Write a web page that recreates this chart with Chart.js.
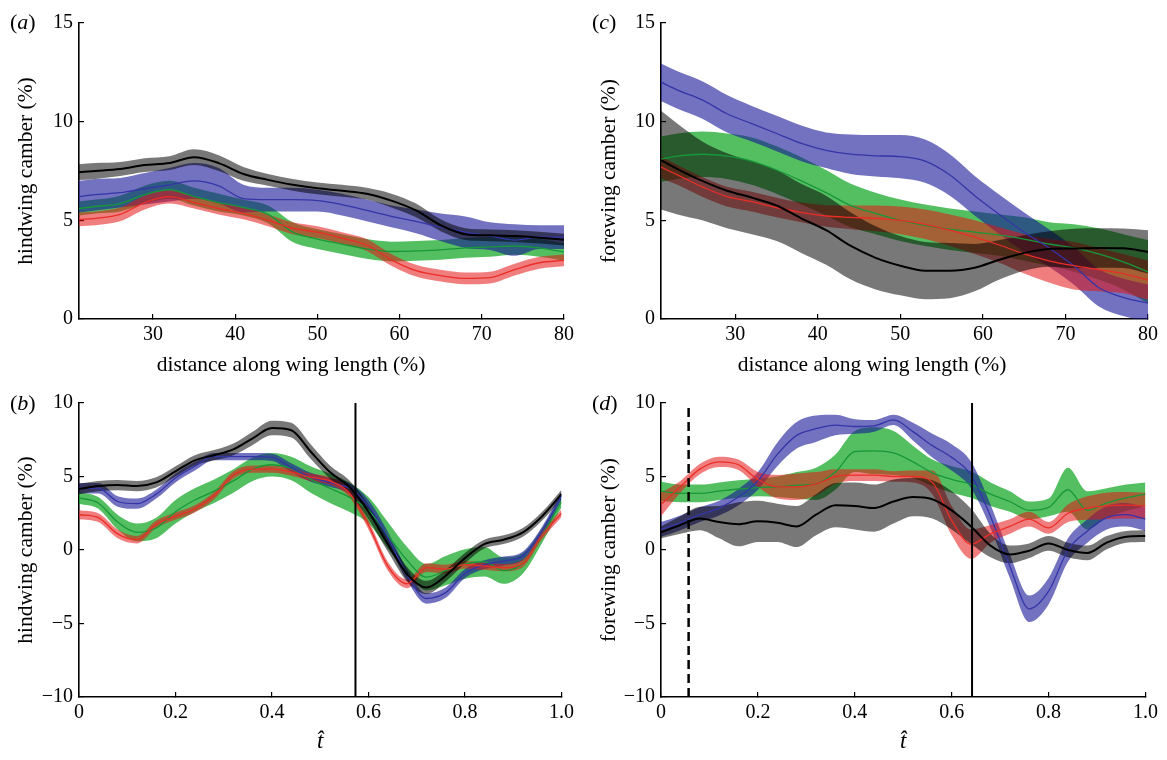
<!DOCTYPE html>
<html>
<head>
<meta charset="utf-8">
<script src="https://cdn.jsdelivr.net/npm/chart.js@4.4.1/dist/chart.umd.min.js"></script>
<style>
  body { margin: 0; background: #fff; }
  #fig { position: relative; width: 1167px; height: 760px; font-family: 'Liberation Serif', serif; color: #000; }
  #fig canvas { position: absolute; }
  .tag { position: absolute; font-size: 22px; line-height: 24px; }
  .xt { position: absolute; font-size: 21.5px; line-height: 24px; white-space: nowrap; transform: translateX(-50%); }
</style>
</head>
<body>
<div id="fig">
  <canvas id="panelA" width="583" height="380" style="left:0;top:0"></canvas>
  <canvas id="panelC" width="584" height="380" style="left:583px;top:0"></canvas>
  <canvas id="panelB" width="583" height="380" style="left:0;top:380px"></canvas>
  <canvas id="panelD" width="584" height="380" style="left:583px;top:380px"></canvas>
  <span class="tag" style="left:10px;top:10px">(<i>a</i>)</span>
  <span class="tag" style="left:592px;top:10px">(<i>c</i>)</span>
  <span class="tag" style="left:10px;top:391px">(<i>b</i>)</span>
  <span class="tag" style="left:592px;top:391px">(<i>d</i>)</span>
  <span class="xt" style="left:291px;top:352px">distance along wing length (%)</span>
  <span class="xt" style="left:872px;top:352px">distance along wing length (%)</span>
</div>
<script>
// x positions along the wing (%), panels a and c
const spanX = [21, 23, 26, 29, 32, 35, 38, 41, 44, 47, 50, 53, 56, 59, 62, 65, 68, 71, 74, 77, 80]
// normalised time, panels b and d
const timeT = [0, 0.04, 0.08, 0.12, 0.16, 0.2, 0.24, 0.28, 0.32, 0.36, 0.4, 0.44, 0.48, 0.52,
  0.56, 0.6, 0.64, 0.68, 0.72, 0.76, 0.8, 0.84, 0.88, 0.92, 0.96, 1.0]

// (a) hindwing camber vs span
const aBlack = [7.44, 7.5, 7.6, 7.8, 7.9, 8.2, 7.9, 7.35, 7.05, 6.8, 6.62, 6.5, 6.35, 6.0, 5.5, 4.75, 4.3, 4.24, 4.2, 4.12, 4.02]
const aBlackSd = [0.4, 0.4, 0.35, 0.35, 0.35, 0.4, 0.4, 0.35, 0.3, 0.3, 0.3, 0.3, 0.3, 0.35, 0.35, 0.3, 0.3, 0.3, 0.3, 0.3, 0.3]
const aBlue = [6.2, 6.3, 6.4, 6.6, 6.8, 7.0, 6.75, 6.1, 6.05, 6.05, 6.0, 5.8, 5.5, 5.2, 4.95, 4.65, 4.4, 4.2, 4.0, 4.15, 4.15]
const aBlueSd = [0.8, 0.8, 0.75, 0.8, 0.85, 0.9, 0.9, 0.7, 0.6, 0.6, 0.55, 0.55, 0.55, 0.55, 0.6, 0.7, 0.8, 0.7, 0.8, 0.6, 0.6]
const aGreen = [5.6, 5.7, 5.85, 6.3, 6.55, 6.2, 5.9, 5.65, 5.3, 4.4, 4.05, 3.8, 3.55, 3.42, 3.45, 3.5, 3.6, 3.65, 3.7, 3.6, 3.4]
const aGreenSd = [0.35, 0.35, 0.4, 0.45, 0.45, 0.45, 0.45, 0.4, 0.45, 0.5, 0.5, 0.5, 0.5, 0.5, 0.5, 0.5, 0.5, 0.5, 0.45, 0.45, 0.45]
const aRed = [5.05, 5.1, 5.3, 5.9, 6.2, 5.9, 5.6, 5.35, 5.0, 4.6, 4.4, 4.1, 3.75, 3.0, 2.45, 2.2, 2.06, 2.1, 2.5, 2.85, 2.97]
const aRedSd = [0.35, 0.35, 0.35, 0.35, 0.35, 0.3, 0.3, 0.3, 0.3, 0.3, 0.3, 0.3, 0.3, 0.3, 0.3, 0.3, 0.3, 0.3, 0.3, 0.3, 0.3]

// (c) forewing camber vs span
const cBlack = [8.05, 7.6, 7.0, 6.5, 6.15, 5.75, 5.1, 4.5, 3.7, 3.1, 2.7, 2.45, 2.45, 2.6, 3.0, 3.35, 3.55, 3.57, 3.6, 3.58, 3.4]
const cBlackSd = [2.5, 2.3, 2.0, 1.9, 1.85, 1.8, 1.75, 1.75, 1.7, 1.6, 1.5, 1.45, 1.4, 1.2, 1.0, 0.9, 0.9, 1.0, 1.0, 1.0, 1.1]
const cBlue = [12.0, 11.6, 11.1, 10.4, 9.9, 9.4, 8.9, 8.55, 8.35, 8.27, 8.23, 8.0, 7.3, 6.25, 5.3, 4.4, 3.6, 2.7, 1.6, 1.1, 0.8]
const cBlueSd = [0.95, 0.95, 0.95, 0.95, 0.9, 0.9, 0.9, 0.9, 1.0, 1.05, 1.1, 1.1, 1.05, 1.0, 1.0, 1.0, 0.95, 0.95, 0.95, 0.95, 0.95]
const cGreen = [8.1, 8.25, 8.35, 8.25, 8.0, 7.55, 7.0, 6.4, 5.75, 5.35, 5.0, 4.75, 4.55, 4.4, 4.25, 4.05, 3.8, 3.6, 3.3, 2.9, 2.4]
const cGreenSd = [1.15, 1.15, 1.15, 1.15, 1.2, 1.2, 1.2, 1.15, 1.1, 1.05, 1.05, 1.05, 1.05, 1.05, 1.05, 1.1, 1.1, 1.2, 1.3, 1.4, 1.6]
const cRed = [7.7, 7.3, 6.7, 6.2, 5.95, 5.65, 5.4, 5.22, 5.15, 5.1, 5.0, 4.8, 4.5, 4.15, 3.75, 3.3, 2.95, 2.7, 2.5, 2.3, 1.97]
const cRedSd = [0.55, 0.5, 0.5, 0.5, 0.5, 0.5, 0.5, 0.55, 0.6, 0.65, 0.7, 0.75, 0.8, 0.85, 0.9, 1.0, 1.1, 1.2, 1.1, 1.0, 1.0]

// (b) hindwing camber vs time
const bBlack = [4.15, 4.35, 4.42, 4.35, 4.6, 5.35, 6.1, 6.45, 6.85, 7.6, 8.3, 8.15, 6.7, 5.3, 4.3, 2.6, 0.4, -1.65, -2.55, -1.75, -0.55, 0.4, 0.7, 1.2, 2.3, 3.8]
const bBlackSd = [0.35, 0.35, 0.35, 0.35, 0.35, 0.35, 0.35, 0.35, 0.4, 0.45, 0.5, 0.5, 0.5, 0.45, 0.45, 0.5, 0.5, 0.5, 0.45, 0.4, 0.35, 0.3, 0.3, 0.3, 0.3, 0.3]
const bBlue = [4.2, 4.2, 3.3, 3.15, 3.8, 4.9, 5.7, 6.35, 6.35, 6.35, 6.3, 5.6, 4.95, 4.6, 4.2, 3.0, 0.85, -1.7, -3.3, -2.9, -1.6, -1.0, -0.75, -0.4, 1.3, 3.7]
const bBlueSd = [0.35, 0.35, 0.35, 0.35, 0.3, 0.3, 0.3, 0.25, 0.25, 0.25, 0.25, 0.3, 0.3, 0.3, 0.35, 0.4, 0.4, 0.4, 0.35, 0.35, 0.3, 0.3, 0.3, 0.3, 0.3, 0.3]
const bGreen = [3.55, 3.2, 1.9, 1.2, 1.5, 2.6, 3.4, 4.0, 4.7, 5.5, 5.8, 5.55, 4.8, 4.2, 3.6, 2.7, 1.0, -0.7, -1.85, -1.4, -0.95, -0.8, -1.4, -0.9, 1.0, 3.3]
const bGreenSd = [0.4, 0.4, 0.5, 0.6, 0.7, 0.8, 0.8, 0.8, 0.8, 0.8, 0.8, 0.8, 0.9, 1.0, 1.0, 0.9, 0.9, 0.9, 0.9, 1.0, 1.0, 1.0, 0.9, 0.7, 0.5, 0.4]
const bRed = [2.4, 2.2, 1.1, 0.7, 1.75, 2.3, 2.8, 3.7, 5.1, 5.5, 5.5, 5.3, 4.95, 4.7, 3.9, 1.7, -1.1, -2.3, -1.2, -1.3, -1.0, -1.1, -1.2, -0.9, 1.0, 2.5]
const bRedSd = [0.3, 0.3, 0.3, 0.25, 0.25, 0.25, 0.25, 0.25, 0.25, 0.25, 0.25, 0.25, 0.25, 0.25, 0.3, 0.3, 0.3, 0.3, 0.3, 0.3, 0.25, 0.25, 0.25, 0.25, 0.25, 0.25]
const bPhase = [0.573]

// (d) forewing camber vs time
const dBlack = [1.2, 1.7, 2.15, 1.9, 1.75, 1.95, 1.85, 1.6, 2.4, 3.05, 3.0, 2.85, 3.3, 3.6, 3.45, 2.7, 1.6, 0.3, -0.3, -0.05, 0.45, 0.0, -0.2, 0.5, 0.9, 0.95]
const dBlackSd = [0.4, 0.6, 0.8, 1.1, 1.5, 1.4, 1.3, 1.4, 1.4, 1.5, 1.6, 1.6, 1.5, 1.3, 1.3, 1.3, 1.2, 0.8, 0.6, 0.5, 0.5, 0.5, 0.5, 0.45, 0.4, 0.4]
const dBlue = [1.4, 1.85, 2.4, 2.85, 3.6, 4.7, 6.5, 7.8, 8.25, 8.5, 8.4, 8.45, 8.85, 8.05, 7.1, 6.3, 5.1, 2.3, -1.1, -4.0, -2.8, 0.0, 1.3, 2.2, 2.4, 2.1]
const dBlueSd = [0.5, 0.5, 0.5, 0.5, 0.55, 0.6, 0.8, 0.9, 0.9, 0.7, 0.5, 0.4, 0.35, 0.6, 0.8, 0.9, 0.9, 0.8, 0.8, 0.9, 0.9, 0.8, 0.8, 0.8, 0.8, 0.8]
const dGreen = [4.0, 3.85, 3.85, 4.0, 4.15, 4.25, 4.3, 4.4, 4.5, 5.3, 6.7, 6.75, 6.6, 6.0, 5.25, 4.8, 4.45, 3.8, 3.3, 2.7, 2.9, 4.1, 2.7, 3.2, 3.55, 3.8]
const dGreenSd = [0.65, 0.6, 0.6, 0.6, 0.6, 0.6, 0.7, 0.9, 1.1, 1.2, 1.4, 1.6, 1.5, 1.1, 0.9, 0.9, 0.9, 0.8, 0.7, 0.6, 0.6, 1.5, 1.3, 1.0, 0.9, 0.8]
const dRed = [3.1, 4.3, 5.5, 6.0, 5.8, 4.8, 4.3, 4.3, 4.5, 5.0, 5.1, 5.1, 5.0, 5.0, 4.6, 2.0, 0.4, 1.1, 1.6, 2.1, 1.5, 2.5, 2.85, 3.0, 3.05, 3.0]
const dRedSd = [0.8, 0.4, 0.35, 0.35, 0.35, 0.5, 0.8, 0.9, 0.8, 0.5, 0.4, 0.4, 0.35, 0.4, 0.8, 1.0, 1.0, 0.6, 0.5, 0.5, 0.4, 0.6, 0.8, 0.9, 0.9, 0.9]
const dPhase = [0.057, 0.642]

// axis ticks
const spanTicks = [30, 40, 50, 60, 70, 80]
const spanTickLabels = ['30', '40', '50', '60', '70', '80']
const spanCamberTicks = [0, 5, 10, 15]
const spanCamberLabels = ['0', '5', '10', '15']
const timeTicks = [0, 0.2, 0.4, 0.6, 0.8, 1.0]
const timeTickLabels = ['0', '0.2', '0.4', '0.6', '0.8', '1.0']
const timeCamberTicks = [-10, -5, 0, 5, 10]
const timeCamberLabels = ['\u221210', '\u22125', '0', '5', '10']

const bandColor = {
  black: 'rgba(0,0,0,0.53)',
  blue: 'rgba(20,20,150,0.6)',
  green: 'rgba(0,160,20,0.67)',
  red: 'rgba(230,20,20,0.55)'
}
const lineColor = { black: '#000000', blue: '#3535a8', green: '#17973a', red: '#ea2d27' }

const serif = 'Liberation Serif'

const pts = (xs, ys) => xs.map((x, i) => ({ x, y: ys[i] }))

function buildDatasets(xs, groups, phase) {
  const lines = []
  const bands = []
  // later index is drawn first, so bands go at the end
  for (const g of groups) {
    lines.push({
      data: pts(xs, g.mean),
      borderColor: lineColor[g.key],
      borderWidth: g.key === 'black' ? 2 : 1.3,
      fill: false
    })
    bands.push({
      data: xs.map((x, i) => ({ x, y: g.mean[i] + g.sd[i] })),
      borderColor: 'transparent',
      borderWidth: 0,
      fill: false
    }, {
      data: xs.map((x, i) => ({ x, y: g.mean[i] - g.sd[i] })),
      borderColor: 'transparent',
      borderWidth: 0,
      backgroundColor: bandColor[g.key],
      fill: '-1'
    })
  }
  const marks = (phase || []).map(p => ({
    data: [{ x: p.t, y: -10 }, { x: p.t, y: 10 }],
    borderColor: '#000',
    borderWidth: p.dashed ? 2.5 : 2,
    borderDash: p.dashed ? [9, 5] : [],
    cubicInterpolationMode: 'default',
    tension: 0,
    fill: false
  }))
  return [...marks, ...lines, ...bands]
}

function makePanel(id, o) {
  const tickFont = { family: serif, size: 20 }
  return new Chart(document.getElementById(id), {
    type: 'line',
    data: { datasets: buildDatasets(o.xs, o.groups, o.phase) },
    options: {
      responsive: false,
      animation: false,
      events: [],
      layout: { padding: o.pad },
      plugins: { legend: { display: false }, tooltip: { enabled: false } },
      elements: { point: { radius: 0 }, line: { cubicInterpolationMode: 'monotone' } },
      scales: {
        x: {
          type: 'linear',
          min: o.xMin,
          max: o.xMax,
          afterBuildTicks: s => { s.ticks = o.xTicks.map(v => ({ value: v })) },
          afterFit: s => { s.height = o.xH },
          ticks: { callback: (v, i) => o.xLabels[i], color: '#000', font: tickFont, padding: 9, maxRotation: 0, autoSkip: false },
          grid: { drawOnChartArea: false, tickLength: -5, color: '#000', lineWidth: 1.2 },
          border: { color: '#000', width: 1.6 },
          title: { display: !!o.xTitle, text: o.xTitle || '', color: '#000', font: { family: serif, size: 23, style: 'italic' }, padding: { top: 4, bottom: 4 } }
        },
        y: {
          type: 'linear',
          min: o.yMin,
          max: o.yMax,
          afterBuildTicks: s => { s.ticks = o.yTicks.map(v => ({ value: v })) },
          afterFit: s => { s.width = o.yW },
          ticks: { callback: (v, i) => o.yLabels[i], color: '#000', font: tickFont, padding: 11, autoSkip: false },
          grid: { drawOnChartArea: false, tickLength: -5, color: '#000', lineWidth: 1.2 },
          border: { color: '#000', width: 1.6 },
          title: { display: true, text: o.yTitle, color: '#000', font: { family: serif, size: 21.5 }, padding: { top: 3, bottom: 3 } }
        }
      }
    }
  })
}

// span panels: x titles are html spans above
makePanel('panelA', {
  xs: spanX, xMin: 21, xMax: 80, xTicks: spanTicks, xLabels: spanTickLabels,
  yMin: 0, yMax: 15, yTicks: spanCamberTicks, yLabels: spanCamberLabels,
  yTitle: 'hindwing camber (%)',
  pad: { left: 10, top: 22, right: 14, bottom: 0 }, yW: 69, xH: 61,
  groups: [
    { key: 'black', mean: aBlack, sd: aBlackSd },
    { key: 'red', mean: aRed, sd: aRedSd },
    { key: 'blue', mean: aBlue, sd: aBlueSd },
    { key: 'green', mean: aGreen, sd: aGreenSd }
  ]
})

makePanel('panelC', {
  xs: spanX, xMin: 21, xMax: 80, xTicks: spanTicks, xLabels: spanTickLabels,
  yMin: 0, yMax: 15, yTicks: spanCamberTicks, yLabels: spanCamberLabels,
  yTitle: 'forewing camber (%)',
  pad: { left: 10, top: 22, right: 17, bottom: 0 }, yW: 68, xH: 61,
  groups: [
    { key: 'black', mean: cBlack, sd: cBlackSd },
    { key: 'red', mean: cRed, sd: cRedSd },
    { key: 'blue', mean: cBlue, sd: cBlueSd },
    { key: 'green', mean: cGreen, sd: cGreenSd }
  ]
})

makePanel('panelB', {
  xs: timeT, xMin: 0, xMax: 1, xTicks: timeTicks, xLabels: timeTickLabels,
  yMin: -10, yMax: 10, yTicks: timeCamberTicks, yLabels: timeCamberLabels,
  xTitle: 't\u0302',
  yTitle: 'hindwing camber (%)',
  pad: { left: 10, top: 23, right: 14, bottom: 0 }, yW: 69, xH: 63,
  phase: bPhase.map(t => ({ t, dashed: false })),
  groups: [
    { key: 'black', mean: bBlack, sd: bBlackSd },
    { key: 'red', mean: bRed, sd: bRedSd },
    { key: 'blue', mean: bBlue, sd: bBlueSd },
    { key: 'green', mean: bGreen, sd: bGreenSd }
  ]
})

makePanel('panelD', {
  xs: timeT, xMin: 0, xMax: 1, xTicks: timeTicks, xLabels: timeTickLabels,
  yMin: -10, yMax: 10, yTicks: timeCamberTicks, yLabels: timeCamberLabels,
  xTitle: 't\u0302',
  yTitle: 'forewing camber (%)',
  pad: { left: 10, top: 23, right: 17, bottom: 0 }, yW: 68, xH: 63,
  phase: dPhase.map((t, i) => ({ t, dashed: i === 0 })),
  groups: [
    { key: 'black', mean: dBlack, sd: dBlackSd },
    { key: 'red', mean: dRed, sd: dRedSd },
    { key: 'blue', mean: dBlue, sd: dBlueSd },
    { key: 'green', mean: dGreen, sd: dGreenSd }
  ]
})
</script>
</body>
</html>
